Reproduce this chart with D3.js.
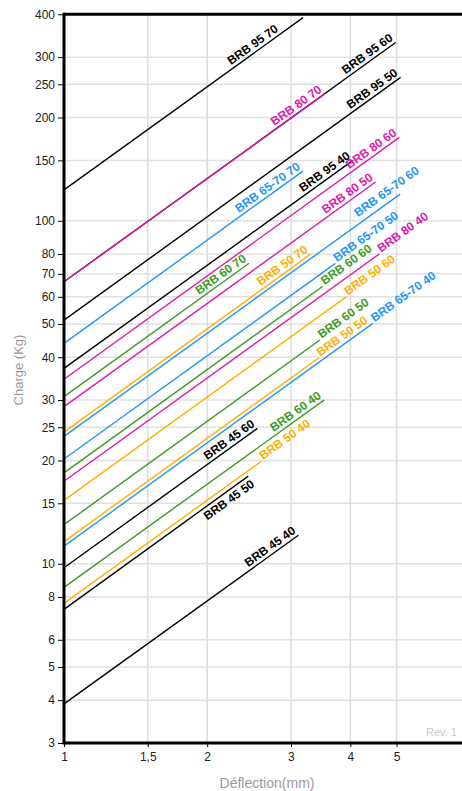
<!DOCTYPE html>
<html>
<head>
<meta charset="utf-8">
<script src="https://cdn.jsdelivr.net/npm/d3@7"></script>
<style>
  body { margin: 0; background: #fff; }
  svg { display: block; font-family: "Liberation Sans", Arial, sans-serif; }
</style>
</head>
<body>
<div id="chart"></div>
<script>
// spring lines, load at 1 mm and at the end of each line
const lineNames = ["BRB 95 70", "BRB 95 60", "BRB 80 70", "BRB 95 50", "BRB 65-70 70", "BRB 95 40",
  "BRB 80 60", "BRB 60 70", "BRB 80 50", "BRB 50 70", "BRB 65-70 60", "BRB 65-70 50",
  "BRB 60 60", "BRB 80 40", "BRB 50 60", "BRB 60 50", "BRB 50 50", "BRB 65-70 40",
  "BRB 45 60", "BRB 60 40", "BRB 50 40", "BRB 45 50", "BRB 45 40"];
const startDefl = [1, 1, 1, 1, 1, 1, 1, 1, 1, 1, 1, 1, 1, 1, 1, 1, 1, 1, 1, 1, 1, 1, 1];
const startLoad = [123, 66.4, 66.4, 51.3, 43.9, 37.1, 34.5, 30.7, 28.7, 24.2, 23.5, 20.2,
  18.4, 17.4, 15.3, 13.0, 11.6, 11.25, 9.73, 8.53, 7.66, 7.36, 3.9];
const endDefl = [3.18, 4.98, 3.53, 5.1, 3.18, 4.05, 5.07, 2.45, 4.52, 3.3, 5.09, 3.72,
  3.5, 4.6, 3.92, 3.45, 3.43, 4.46, 2.55, 3.52, 2.6, 2.44, 3.11];
const endLoad = [391, 331, 234, 262, 139.6, 150, 175, 75.2, 129.7, 79.9, 119.6, 75.1,
  64.4, 80, 60, 44.9, 39.8, 50.2, 24.8, 30, 19.9, 18, 12.1];

const xTicks = [1, 1.5, 2, 3, 4, 5];
const xTickLabels = ["1", "1,5", "2", "3", "4", "5"];
const yTicks = [3, 4, 5, 6, 8, 10, 15, 20, 25, 30, 40, 50, 60, 70, 80, 100, 150, 200, 250, 300, 400];

const W = 462, H = 791;
const plotL = 64, plotT = 14.3, plotB = 743, plotR = 466;

const svg = d3.select("#chart").append("svg")
  .attr("width", W).attr("height", H);

const x = d3.scaleLog().domain([1, 7]).range([plotL, plotR]);
const y = d3.scaleLog().domain([3, 400]).range([plotB, plotT]);

// grid
svg.append("g")
  .selectAll("line")
  .data(yTicks)
  .enter().append("line")
    .attr("x1", plotL).attr("x2", plotR)
    .attr("y1", d => y(d)).attr("y2", d => y(d))
    .attr("stroke", "#e0e0e0").attr("stroke-width", 1.5);
svg.append("g")
  .selectAll("line")
  .data(xTicks.slice(1))
  .enter().append("line")
    .attr("x1", d => x(d)).attr("x2", d => x(d))
    .attr("y1", plotT).attr("y2", plotB)
    .attr("stroke", "#dddddd").attr("stroke-width", 1.5);

// family colours
function colorOf(name) {
  if (name.startsWith("BRB 95") || name.startsWith("BRB 45")) return "#000000";
  if (name.startsWith("BRB 80")) return "#dc1aad";
  if (name.startsWith("BRB 65-70")) return "#2196f3";
  if (name.startsWith("BRB 60")) return "#3e9a22";
  return "#fdb000";
}

// where each label sits relative to the line end
// default: above the line, ending at the line end
const after = { anchor: "start", along: 2, dy: 0 };
const labelPlace = {
  "BRB 95 70": { anchor: "end", along: -27, dy: -3.5 },
  "BRB 65-70 60": { anchor: "start", along: -48, dy: -6 },
  "BRB 65-70 50": after, "BRB 60 60": after, "BRB 80 40": after, "BRB 50 60": after,
  "BRB 60 50": after, "BRB 50 50": after, "BRB 65-70 40": after, "BRB 50 40": after,
  "BRB 45 50": { anchor: "end", along: 0, dy: 12 }
};
const defPlace = { anchor: "end", along: 0, dy: -3.5 };

const angle = Math.atan2(y(10) - y(100), x(10) - x(1)) * 180 / Math.PI;

const rows = lineNames.map((n, i) => ({
  name: n,
  pts: [{ x: startDefl[i], y: startLoad[i] }, { x: endDefl[i], y: endLoad[i] }]
}));

const line = d3.line()
  .x(d => x(d.x))
  .y(d => y(d.y));

const g = svg.append("g");
g.selectAll("path")
  .data(rows)
  .enter().append("path")
    .attr("fill", "none")
    .attr("stroke", d => colorOf(d.name))
    .attr("stroke-width", 1.4)
    .attr("d", d => line(d.pts));

g.selectAll("text")
  .data(rows)
  .enter().append("text")
    .attr("transform", d => {
      const e = d.pts[1];
      const p = labelPlace[d.name] || defPlace;
      return `translate(${x(e.x)},${y(e.y)}) rotate(${-angle}) translate(${p.along},0)`;
    })
    .attr("text-anchor", d => (labelPlace[d.name] || defPlace).anchor)
    .attr("dy", d => (labelPlace[d.name] || defPlace).dy)
    .attr("font-size", 12)
    .attr("font-weight", "bold")
    .attr("fill", d => colorOf(d.name))
    .text(d => d.name);

// axes
svg.append("g")
  .attr("transform", `translate(0,${plotB})`)
  .call(d3.axisBottom(x).tickValues(xTicks).tickFormat((d, i) => xTickLabels[i]).tickSize(4).tickPadding(5))
  .call(a => a.select(".domain").remove())
  .call(a => a.selectAll("text").attr("font-size", 12).attr("fill", "#222").attr("font-family", "Liberation Sans, Arial, sans-serif"));

svg.append("g")
  .attr("transform", `translate(${plotL},0)`)
  .call(d3.axisLeft(y).tickValues(yTicks).tickFormat(d3.format("d")).tickSize(6).tickPadding(3))
  .call(a => a.select(".domain").remove())
  .call(a => a.selectAll("text").attr("font-size", 12).attr("fill", "#222").attr("font-family", "Liberation Sans, Arial, sans-serif"));

// frame
svg.append("line").attr("x1", plotL).attr("x2", W).attr("y1", plotT).attr("y2", plotT)
  .attr("stroke", "#000").attr("stroke-width", 3);
svg.append("line").attr("x1", plotL).attr("x2", W).attr("y1", plotB).attr("y2", plotB)
  .attr("stroke", "#000").attr("stroke-width", 3);
svg.append("line").attr("x1", plotL).attr("x2", plotL).attr("y1", plotT - 1.5).attr("y2", plotB + 1.5)
  .attr("stroke", "#000").attr("stroke-width", 3);

// titles
svg.append("text")
  .attr("transform", `translate(23,370) rotate(-90)`)
  .attr("text-anchor", "middle")
  .attr("font-size", 13)
  .attr("fill", "#999")
  .text("Charge (Kg)");
svg.append("text")
  .attr("x", 267).attr("y", 788)
  .attr("text-anchor", "middle")
  .attr("font-size", 14)
  .attr("fill", "#999")
  .text("Déflection(mm)");
svg.append("text")
  .attr("x", 457).attr("y", 736)
  .attr("text-anchor", "end")
  .attr("font-size", 11)
  .attr("fill", "#c8c8c8")
  .text("Rev. 1");
</script>
</body>
</html>
